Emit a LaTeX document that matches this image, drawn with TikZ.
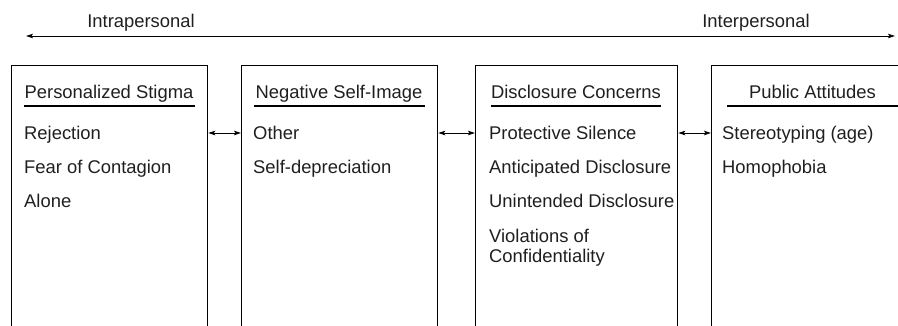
\documentclass[tikz,border=0pt]{standalone}
\usepackage{fontspec}
\setmainfont{Liberation Sans}
\usetikzlibrary{arrows.meta}
\begin{document}
\begin{tikzpicture}[x=1pt,y=-1pt,
  box/.style={draw=black,line width=1.3pt,rectangle,minimum width=#1,minimum height=300pt,anchor=north west,inner sep=0pt},
  txt/.style={inner sep=0pt,anchor=base west,font=\fontsize{18.4}{20}\selectfont,text=black!88},
  head/.style={inner sep=0pt,anchor=base,font=\fontsize{18.4}{20}\selectfont,text=black!88},
  rule/.style={line width=1.1pt},
  link/.style={line width=0.9pt,{Stealth[length=7pt,width=4.5pt,inset=1.5pt]}-{Stealth[length=7pt,width=4.5pt,inset=1.5pt]}}]
\useasboundingbox (0,0) rectangle (898,325);
\clip (0,0) rectangle (898,325);
% top axis
\coordinate (L) at (26,36);
\coordinate (R) at (895,36);
\draw[link] (L) -- (R);
\node[head] (intra) at (141,27) {Intrapersonal};
\node[head] (inter) at (756,27) {Interpersonal};
% boxes
\node[box=196pt] (b1) at (11,65) {};
\node[box=196pt] (b2) at (241,65) {};
\node[box=202pt] (b3) at (475,65) {};
\node[box=203pt] (b4) at (711,65) {};
% headings
\node[head] (h1) at (109,98) {Personalized Stigma};
\node[head] (h2) at (339,98) {Negative Self-Image};
\node[head] (h3) at (576,98) {Disclosure Concerns};
\node[head] (h4) at (812.5,98) {Public Attitudes};
\draw[rule] (24,106) -- (195,106);
\draw[rule] (254,106) -- (425,106);
\draw[rule] (491,106) -- (661,106);
\draw[rule] (727,106) -- (898,106);
% items
\node[txt] (r1) at (24,139) {Rejection};
\node[txt] (r2) at (24,173) {Fear of Contagion};
\node[txt] (r3) at (24,207) {Alone};
\node[txt] (n1) at (253,139) {Other};
\node[txt] (n2) at (253,173) {Self-depreciation};
\node[txt] (d1) at (489,139) {Protective Silence};
\node[txt] (d2) at (489,173) {Anticipated Disclosure};
\node[txt] (d3) at (489,207) {Unintended Disclosure};
\node[txt] (d4) at (489,242) {Violations of};
\node[txt] (d5) at (489,262) {Confidentiality};
\node[txt] (p1) at (722,139) {Stereotyping (age)};
\node[txt] (p2) at (722,173) {Homophobia};
% connectors
\coordinate (row) at (0,133);
\draw[link] (b1.east |- row) -- (b2.west |- row);
\draw[link] (b2.east |- row) -- (b3.west |- row);
\draw[link] (b3.east |- row) -- (b4.west |- row);
\end{tikzpicture}
\end{document}
